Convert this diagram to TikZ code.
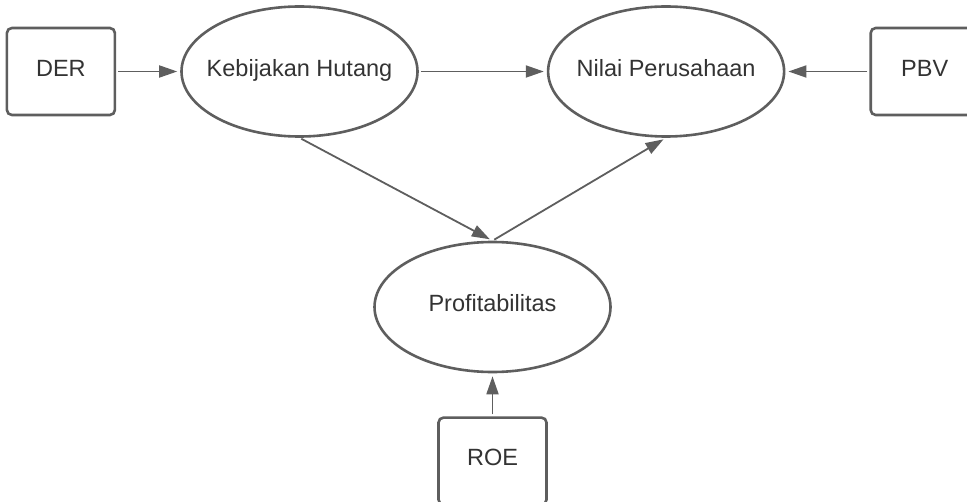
\documentclass[tikz,border=0pt]{standalone}
\usepackage{fontspec}
\setmainfont{Liberation Sans}
\usepackage{tikz}
\usetikzlibrary{shapes.geometric, arrows.meta, positioning}
\definecolor{garisabu}{RGB}{94,94,94}
\definecolor{teksabu}{RGB}{51,51,51}

\begin{document}
\begin{tikzpicture}[x=0.5pt, y=-0.5pt,
    every node/.style={font=\fontsize{11.75}{14}\selectfont, text=teksabu, text height=0.72em, text depth=0.26em},
    konsep/.style={ellipse, draw=garisabu, line width=1.3pt, fill=white, minimum width=118pt, minimum height=65pt, inner xsep=-6pt, inner ysep=0pt},
    indikator/.style={rectangle, draw=garisabu, line width=1.3pt, fill=white, rounded corners=2.5pt, minimum width=54pt, minimum height=43.5pt},
    panah/.style={-{Triangle[length=9pt, width=6pt]}, line width=0.9pt, draw=garisabu, shorten >=1.5pt, shorten <=1pt}]
\clip (0,0) rectangle (967,502);

\node[konsep] (keb) at (299.5,71.5) {Kebijakan Hutang};
\node[indikator] (der) [left=32pt of keb] {DER};
\node[konsep] (nilai) [right=64pt of keb] {Nilai Perusahaan};
\node[indikator] (pbv) [right=42pt of nilai] {PBV};
\node[konsep] (prof) at (492.5,307) {Profitabilitas};
\node[indikator] (roe) [below=21.5pt of prof] {ROE};

\draw[panah] (der) -- (keb);
\draw[panah] (keb) -- (nilai);
\draw[panah] (pbv) -- (nilai);
\draw[panah] (keb.south) -- (prof.north);
\draw[panah] (prof.north) -- (nilai.south);
\draw[panah] (roe) -- (prof);
\end{tikzpicture}
\end{document}
